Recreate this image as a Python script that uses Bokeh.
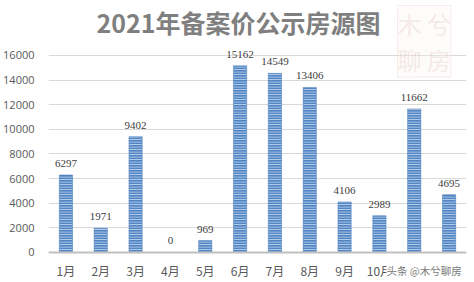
from bokeh.plotting import figure
from bokeh.models import ColumnDataSource, LabelSet, Label, FactorRange, Range1d, FixedTicker
from bokeh.embed import file_html
from bokeh.resources import INLINE

months = ["1月", "2月", "3月", "4月", "5月", "6月", "7月", "8月", "9月", "10月", "11月", "12月"]
counts = [6297, 1971, 9402, 0, 969, 15162, 14549, 13406, 4106, 2989, 11662, 4695]
y_ticks = [0, 2000, 4000, 6000, 8000, 10000, 12000, 14000, 16000]
title_text = "2021年备案价公示房源图"
watermark = "头条 @木兮聊房"
logo_text = "木 兮\n聊 房"

src = ColumnDataSource(dict(m=months, v=counts, t=[str(c) for c in counts]))

p = figure(width=474, height=282, x_range=FactorRange(*months, range_padding=0),
           y_range=Range1d(-2437, 20467), output_backend="svg", toolbar_location=None,
           title=None,
           min_border_left=44, min_border_right=8, min_border_top=0, min_border_bottom=0)
p.outline_line_color = None
p.background_fill_color = "white"
p.border_fill_color = "white"

p.vbar(x="m", top="v", width=0.38, source=src, fill_color="#5285c4",
       line_color="#4a7ebb", line_width=0.5,
       hatch_pattern="horizontal_line", hatch_color="#c8daf2", hatch_scale=2.5, hatch_weight=1)

labels = LabelSet(x="m", y="v", text="t", source=src, text_align="center", text_baseline="bottom",
                  y_offset=8, text_font_size="11px", text_color="#404040", text_font="Open Sans")
p.add_layout(labels)

p.yaxis.ticker = FixedTicker(ticks=y_ticks)
p.yaxis.axis_line_color = None
p.yaxis.major_tick_line_color = None
p.yaxis.minor_tick_line_color = None
p.yaxis.major_label_standoff = 8
p.yaxis.major_label_text_font = "Open Sans"
p.yaxis.major_label_text_font_size = "11px"
p.yaxis.major_label_text_color = "#595959"

p.xaxis.fixed_location = 0
p.xaxis.axis_line_color = "#bfbfbf"
p.xaxis.axis_line_width = 2
p.xaxis.major_tick_line_color = None
p.xaxis.minor_tick_line_color = None
p.xaxis.major_label_standoff = 4
p.xaxis.major_label_text_font = "Noto Sans CJK SC"
p.xaxis.major_label_text_font_size = "12px"
p.xaxis.major_label_text_color = "#595959"

p.xgrid.grid_line_color = None
p.ygrid.grid_line_color = "#d9d9d9"
p.ygrid.ticker = FixedTicker(ticks=y_ticks)

title = Label(x=190, y=261, x_units="screen", y_units="screen", text=title_text,
              text_font="Noto Sans CJK SC", text_font_size="25px", text_font_style="bold",
              text_color="#7f7f7f", text_align="center", text_baseline="middle", level="overlay")
p.add_layout(title)

logo = Label(x=349, y=277, x_units="screen", y_units="screen", text=logo_text,
             text_font="Noto Sans CJK SC", text_font_size="24px", text_color="#c98a8a",
             text_alpha=0.18, text_baseline="top", text_line_height=1.05,
             border_line_color="#e6cccc", border_line_alpha=0.35,
             background_fill_color="#fdf3f3", background_fill_alpha=0.3, level="overlay")
p.add_layout(logo)

wm = Label(x=338, y=12, x_units="screen", y_units="screen", text=watermark,
           text_font="Noto Sans CJK SC", text_font_size="10.5px", text_color="#7a7a7a",
           background_fill_color="white", background_fill_alpha=1.0, text_baseline="middle",
           level="overlay")
p.add_layout(wm)

open("out.html", "w").write(file_html(p, INLINE))
